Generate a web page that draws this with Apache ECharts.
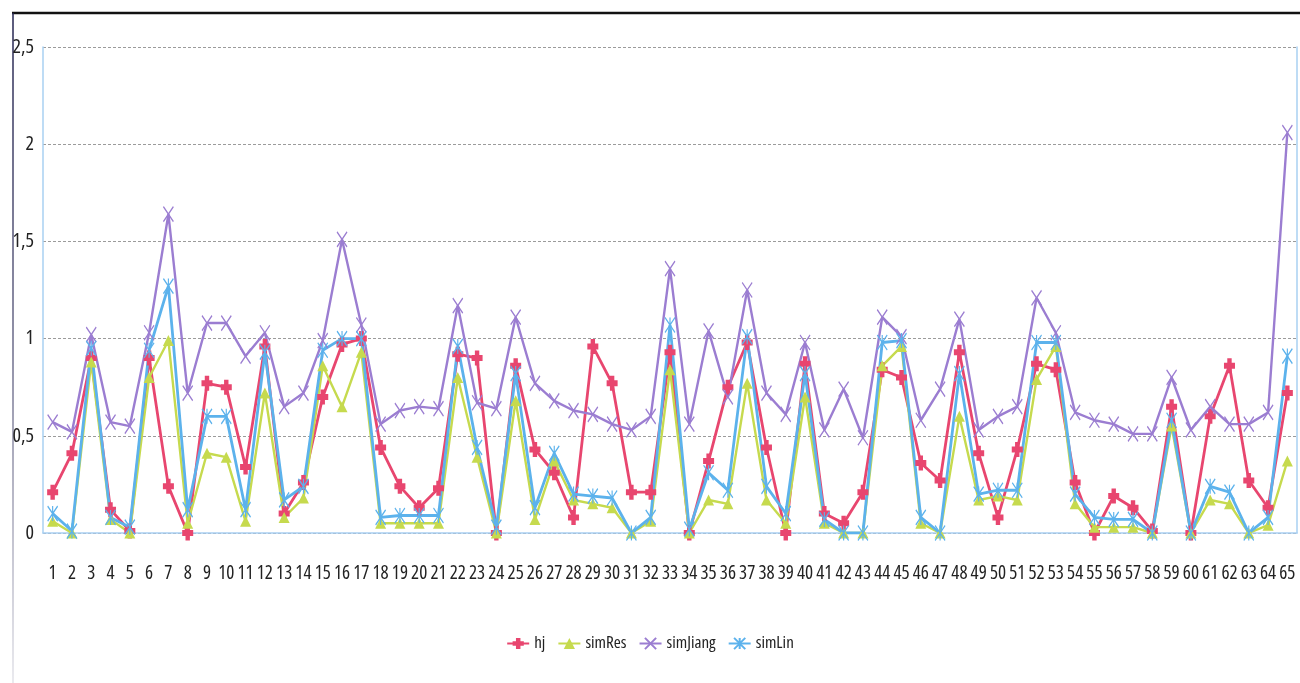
<!DOCTYPE html>
<html>
<head>
<meta charset="utf-8">
<script src="https://cdn.jsdelivr.net/npm/echarts@6/dist/echarts.min.js"></script>
<style>
  html, body { margin: 0; padding: 0; background: #fff; }
  #chart { width: 1300px; height: 683px; }
</style>
</head>
<body>
<div id="chart"></div>
<script>
// Sample indices 1..65
const categories = Array.from({ length: 65 }, (_, i) => String(i + 1));

const hj = [
  0.21, 0.41, 0.90, 0.12, 0.01, 0.90, 0.24, 0.00, 0.77, 0.75,
  0.34, 0.96, 0.10, 0.26, 0.70, 0.97, 1.00, 0.44, 0.24, 0.13,
  0.23, 0.92, 0.90, 0.00, 0.86, 0.43, 0.31, 0.08, 0.96, 0.77,
  0.21, 0.21, 0.93, 0.00, 0.37, 0.75, 0.98, 0.44, 0.00, 0.87,
  0.10, 0.05, 0.21, 0.84, 0.80, 0.36, 0.27, 0.93, 0.41, 0.08,
  0.43, 0.87, 0.84, 0.26, 0.00, 0.19, 0.13, 0.01, 0.65, 0.00,
  0.60, 0.86, 0.27, 0.13, 0.72
];

const simRes = [
  0.06, 0.00, 0.88, 0.07, 0.00, 0.80, 0.99, 0.05, 0.41, 0.39,
  0.06, 0.72, 0.08, 0.18, 0.86, 0.65, 0.93, 0.05, 0.05, 0.05,
  0.05, 0.80, 0.39, 0.00, 0.68, 0.07, 0.37, 0.17, 0.15, 0.13,
  0.00, 0.06, 0.84, 0.00, 0.17, 0.15, 0.77, 0.17, 0.05, 0.70,
  0.05, 0.00, 0.00, 0.86, 0.96, 0.05, 0.00, 0.60, 0.17, 0.19,
  0.17, 0.79, 0.96, 0.15, 0.03, 0.03, 0.03, 0.00, 0.55, 0.00,
  0.17, 0.15, 0.00, 0.04, 0.37
];

const simJiang = [
  0.57, 0.52, 1.02, 0.57, 0.55, 1.03, 1.64, 0.72, 1.08, 1.08,
  0.91, 1.03, 0.65, 0.72, 0.99, 1.51, 1.07, 0.56, 0.63, 0.65,
  0.64, 1.17, 0.67, 0.64, 1.11, 0.77, 0.68, 0.63, 0.61, 0.56,
  0.53, 0.60, 1.36, 0.56, 1.04, 0.70, 1.25, 0.72, 0.61, 0.98,
  0.53, 0.74, 0.49, 1.11, 1.01, 0.58, 0.74, 1.10, 0.53, 0.60,
  0.65, 1.21, 1.03, 0.62, 0.58, 0.56, 0.51, 0.51, 0.80, 0.53,
  0.65, 0.56, 0.56, 0.62, 2.06
];

const simLin = [
  0.10, 0.01, 0.95, 0.08, 0.03, 0.94, 1.27, 0.12, 0.60, 0.60,
  0.12, 0.93, 0.17, 0.24, 0.94, 1.00, 1.00, 0.08, 0.09, 0.09,
  0.09, 0.96, 0.44, 0.03, 0.82, 0.13, 0.41, 0.20, 0.19, 0.18,
  0.00, 0.08, 1.07, 0.02, 0.31, 0.22, 1.01, 0.24, 0.10, 0.82,
  0.07, 0.00, 0.00, 0.98, 0.99, 0.08, 0.00, 0.82, 0.20, 0.22,
  0.22, 0.98, 0.98, 0.20, 0.08, 0.07, 0.07, 0.00, 0.58, 0.00,
  0.24, 0.21, 0.00, 0.08, 0.91
];

const FONT = "'Liberation Sans Narrow', 'Open Sans', 'DejaVu Sans', sans-serif";
// font-stretch keyword placed in the style slot of the canvas font shorthand
const STRETCH = 'normal extra-condensed';
const frameBlue = '#a9d0f2';

// Marker shapes
const plusSym = 'path://M3,0H7V3H10V7H7V10H3V7H0V3H3Z';
const crossSym = 'path://M0,0L10,14M10,0L0,14';
const starSym = 'path://M0,0L10,14M10,0L0,14M5,0L5,14';

function lineSeries(name, data, color, symbol, size, filled, width) {
  return {
    name, type: 'line', data,
    symbol, symbolSize: size,
    lineStyle: { color, width },
    itemStyle: filled
      ? { color, borderColor: color, borderWidth: 0 }
      : { color: 'transparent', borderColor: color, borderWidth: 1.4 },
    emphasis: { disabled: true }
  };
}

const chart = echarts.init(document.getElementById('chart'), null, { renderer: 'canvas' });
chart.setOption({
  animation: false,
  backgroundColor: '#ffffff',
  grid: { left: 43, right: 3, top: 47, bottom: 150, containLabel: false },
  legend: {
    top: 630, left: 'center',
    itemWidth: 22, itemHeight: 14, itemGap: 12,
    textStyle: { fontFamily: FONT, fontStyle: STRETCH, fontSize: 17, color: '#222' },
    data: ['hj', 'simRes', 'simJiang', 'simLin']
  },
  xAxis: [{
    type: 'category', data: categories, boundaryGap: true,
    axisLine: { show: false }, axisTick: { show: false },
    axisLabel: { interval: 0, margin: 31, fontFamily: FONT, fontStyle: STRETCH, fontSize: 19, color: '#222' }
  }, {
    type: 'category', data: categories, position: 'top',
    axisLine: { show: true, lineStyle: { color: frameBlue, width: 1.5 } },
    axisTick: { show: false }, axisLabel: { show: false }
  }],
  yAxis: [{
    type: 'value', min: 0, max: 2.5, interval: 0.5,
    axisLine: { show: true, lineStyle: { color: frameBlue, width: 1.5 } },
    axisTick: { show: false },
    axisLabel: {
      margin: 9, fontFamily: FONT, fontStyle: STRETCH, fontSize: 20, color: '#222',
      formatter: v => String(v).replace('.', ',')
    },
    splitLine: { show: true, lineStyle: { color: '#9b9b9b', type: [3, 2], width: 1 } }
  }, {
    type: 'value', min: 0, max: 2.5, interval: 0.5, position: 'right',
    axisLine: { show: true, lineStyle: { color: frameBlue, width: 1.5 } },
    axisTick: { show: false }, axisLabel: { show: false }, splitLine: { show: false }
  }],
  series: [
    lineSeries('hj', hj, '#e8466f', plusSym, [11, 15], true, 2.8),
    lineSeries('simRes', simRes, '#c6da4e', 'triangle', 11, true, 2.4),
    lineSeries('simJiang', simJiang, '#9b7dd1', crossSym, [10, 15], false, 2.4),
    lineSeries('simLin', simLin, '#5cb2ec', starSym, [10, 15], false, 2.8)
  ],
  graphic: [
    { type: 'line', shape: { x1: 12, y1: 13, x2: 1300, y2: 13 },
      style: { stroke: '#111', lineWidth: 2.5 } },
    { type: 'line', shape: { x1: 13, y1: 13, x2: 13, y2: 683 },
      style: {
        lineWidth: 1.5,
        stroke: {
          type: 'linear', x: 0, y: 0, x2: 0, y2: 1,
          colorStops: [
            { offset: 0, color: '#23234f' },
            { offset: 0.5, color: '#6b6b8a' },
            { offset: 1, color: '#e4e4ea' }
          ]
        }
      } }
  ]
});
</script>
</body>
</html>
